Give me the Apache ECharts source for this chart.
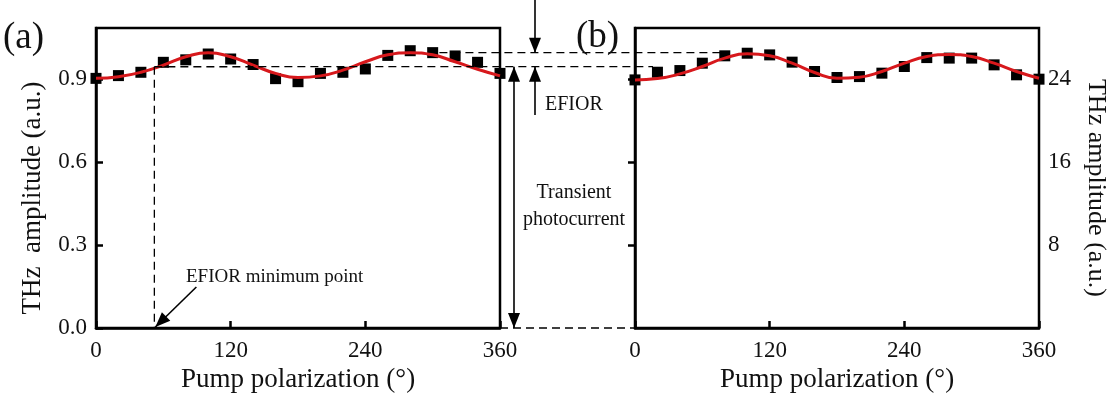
<!DOCTYPE html>
<html>
<head>
<meta charset="utf-8">
<title>THz amplitude vs pump polarization</title>
<script src="https://cdn.jsdelivr.net/npm/echarts@6/dist/echarts.min.js"></script>
<style>
  html, body { margin: 0; padding: 0; background: #fff; }
  #chart { width: 1113px; height: 401px; }
</style>
</head>
<body>
<div id="chart"></div>
<script>
// Pump polarization angles (degrees)
const angles = [0, 20, 40, 60, 80, 100, 120, 140, 160, 180, 200, 220, 240, 260, 280, 300, 320, 340, 360];

// Panel (a): normalized THz amplitude, measured points and fitted curve
const ampA = [0.902, 0.912, 0.924, 0.960, 0.969, 0.990, 0.972, 0.952, 0.901, 0.890, 0.920, 0.924, 0.936, 0.985, 1.002, 0.995, 0.983, 0.960, 0.920];
const fitA = [0.902, 0.908, 0.924, 0.950, 0.980, 0.995, 0.980, 0.950, 0.920, 0.905, 0.911, 0.932, 0.962, 0.987, 0.995, 0.987, 0.962, 0.935, 0.911];

// Panel (b): THz amplitude (a.u.), measured points and fitted curve
const ampB = [23.90, 24.64, 24.80, 25.51, 26.22, 26.47, 26.31, 25.61, 24.71, 24.13, 24.22, 24.55, 25.19, 26.05, 26.00, 26.00, 25.35, 24.39, 23.97];
const fitB = [23.90, 24.03, 24.48, 25.19, 26.00, 26.41, 26.22, 25.51, 24.61, 24.06, 24.16, 24.71, 25.51, 26.15, 26.35, 26.15, 25.51, 24.71, 24.06];

// Axis ticks
const xTicks = [0, 120, 240, 360];
const yTicksA = [0.0, 0.3, 0.6, 0.9];
const yTicksB = [8, 16, 24];

// Reference levels used by the annotations
const levelPeak = 0.995;       // fitted maximum
const levelEfior = 0.944;      // EFIOR level
const efiorMinAngle = 52;      // EFIOR minimum point
const scaleB = 26.67;          // panel (b) units per normalized unit

const FONT = "'Liberation Serif', 'Times New Roman', serif";
const chart = echarts.init(document.getElementById('chart'), null, { renderer: 'canvas' });

function pairs(xs, ys) { return xs.map((x, i) => [x, ys[i]]); }

function xAxisFor(gridIndex) {
  return {
    type: 'value', gridIndex, min: 0, max: 360, interval: 120,
    name: 'Pump polarization (\u00B0)', nameLocation: 'middle', nameGap: 35,
    nameTextStyle: { fontFamily: FONT, fontSize: 27, color: '#111' },
    axisLine: { show: true, lineStyle: { color: '#000', width: 2.5 } },
    axisTick: { show: true, inside: true, length: 7, lineStyle: { color: '#000', width: 2.5 } },
    axisLabel: { fontFamily: FONT, fontSize: 23, color: '#111', margin: 11,
      formatter: v => xTicks.includes(v) ? String(v) : '' },
    splitLine: { show: false }
  };
}

const option = {
  animation: false,
  backgroundColor: '#fff',
  grid: [
    { left: 96, top: 28, width: 404, height: 300, show: true, borderColor: '#000', borderWidth: 2.5 },
    { left: 635, top: 28, width: 404, height: 300, show: true, borderColor: '#000', borderWidth: 2.5 }
  ],
  xAxis: [xAxisFor(0), xAxisFor(1)],
  yAxis: [
    {
      type: 'value', gridIndex: 0, min: 0, max: 1.084, interval: 0.3,
      axisLine: { show: true, lineStyle: { color: '#000', width: 2.5 } },
      axisTick: { show: true, inside: true, length: 7, lineStyle: { color: '#000', width: 2.5 } },
      axisLabel: { fontFamily: FONT, fontSize: 23, color: '#111', margin: 9, showMaxLabel: false,
        formatter: v => yTicksA.some(t => Math.abs(t - v) < 1e-6) ? v.toFixed(1) : '' },
      splitLine: { show: false }
    },
    {
      type: 'value', gridIndex: 1, position: 'right', min: 0, max: 28.9, interval: 8,
      axisLine: { show: true, lineStyle: { color: '#000', width: 2.5 } },
      axisTick: { show: true, inside: true, length: 7, lineStyle: { color: '#000', width: 2.5 } },
      axisLabel: { fontFamily: FONT, fontSize: 23, color: '#111', margin: 9, showMaxLabel: false, showMinLabel: false,
        formatter: v => yTicksB.includes(v) ? String(v) : '' },
      splitLine: { show: false }
    }
  ],
  series: [
    { type: 'scatter', xAxisIndex: 0, yAxisIndex: 0, data: pairs(angles, ampA),
      symbol: 'rect', symbolSize: 11, itemStyle: { color: '#000', opacity: 1 }, z: 2 },
    { type: 'line', xAxisIndex: 0, yAxisIndex: 0, data: pairs(angles, fitA), smooth: 0.5,
      showSymbol: false, lineStyle: { color: '#d7181c', width: 3 }, z: 3 },
    { type: 'scatter', xAxisIndex: 1, yAxisIndex: 1, data: pairs(angles, ampB),
      symbol: 'rect', symbolSize: 11, itemStyle: { color: '#000', opacity: 1 }, z: 2 },
    { type: 'line', xAxisIndex: 1, yAxisIndex: 1, data: pairs(angles, fitB), smooth: 0.5,
      showSymbol: false, lineStyle: { color: '#d7181c', width: 3 }, z: 3 }
  ]
};
chart.setOption(option);

// ---- Annotations, positioned from the axes of each panel ----
const pa = (x, y) => chart.convertToPixel({ gridIndex: 0 }, [x, y]);
const pb = (x, y) => chart.convertToPixel({ gridIndex: 1 }, [x, y]);

const dash = { stroke: '#000', lineWidth: 1.3, lineDash: [8, 5] };
const solid = { stroke: '#000', lineWidth: 1.6 };

function seg(p1, p2, style) {
  return { type: 'line', shape: { x1: p1[0], y1: p1[1], x2: p2[0], y2: p2[1] }, style, z: 10, silent: true };
}
// Arrow head whose tip sits at 'tip', pointing along the direction from 'from' to 'tip'
function head(from, tip, len, half) {
  const dx = tip[0] - from[0], dy = tip[1] - from[1];
  const L = Math.hypot(dx, dy), ux = dx / L, uy = dy / L;
  const bx = tip[0] - ux * len, by = tip[1] - uy * len;
  return { type: 'polygon', z: 10, silent: true,
    shape: { points: [tip, [bx - uy * half, by + ux * half], [bx + uy * half, by - ux * half]] },
    style: { fill: '#000' } };
}
function arrow(from, tip) {
  return [seg(from, tip, solid), head(from, tip, 15, 6)];
}

const aRight = pa(360, 0);           // bottom-right corner of panel (a)
const bLeft = pb(0, 0);              // bottom-left corner of panel (b)
const yPeak = pa(0, levelPeak)[1];
const yEfior = pa(0, levelEfior)[1];
const yZero = aRight[1];
const xDouble = aRight[0] + 14;      // double-headed arrow
const xEfior = aRight[0] + 35;       // EFIOR arrows
const minPt = pa(efiorMinAngle, levelEfior);
const minBase = pa(efiorMinAngle, 0);

const textStyle = (text, size, extra) => Object.assign({ text, font: `${size}px ${FONT}`, fill: '#111', textVerticalAlign: 'middle' }, extra || {});

const graphics = [
  // horizontal guide lines
  seg(pa(306, levelPeak), pb(76, levelPeak * scaleB), dash),
  seg(minPt, pb(16, levelEfior * scaleB), dash),
  seg([aRight[0], yZero], [bLeft[0], yZero], dash),
  // vertical guide to the EFIOR minimum point
  seg(minPt, minBase, dash),
  // arrows
  ...arrow([xEfior, 0], [xEfior, yPeak]),
  ...arrow([xEfior, 115], [xEfior, yEfior]),
  seg([xDouble, yEfior], [xDouble, yZero], solid),
  head([xDouble, yZero], [xDouble, yEfior], 15, 6),
  head([xDouble, yEfior], [xDouble, yZero], 15, 6),
  ...arrow([minBase[0] + 42, minBase[1] - 41], [minBase[0] + 1, minBase[1] - 1]),
  // texts
  { type: 'text', x: 3, y: 38, z: 10, style: textStyle('(a)', 37) },
  { type: 'text', x: 576, y: 37, z: 10, style: textStyle('(b)', 37) },
  { type: 'text', x: xEfior + 10, y: 105, z: 10, style: textStyle('EFIOR', 20) },
  { type: 'text', x: 574, y: 193, z: 10, style: textStyle('Transient', 20, { textAlign: 'center' }) },
  { type: 'text', x: 574, y: 220, z: 10, style: textStyle('photocurrent', 20, { textAlign: 'center' }) },
  { type: 'text', x: 186, y: 277, z: 10, style: textStyle('EFIOR minimum point', 19) },
  // y-axis titles
  { type: 'text', x: 33, y: 198, rotation: Math.PI / 2, z: 10,
    style: textStyle('THz  amplitude (a.u.)', 27, { textAlign: 'center' }) },
  { type: 'text', x: 1096, y: 188, rotation: -Math.PI / 2, z: 10,
    style: textStyle('THz amplitude (a.u.)', 26, { textAlign: 'center' }) }
];
chart.setOption({ graphic: graphics });
</script>
</body>
</html>
